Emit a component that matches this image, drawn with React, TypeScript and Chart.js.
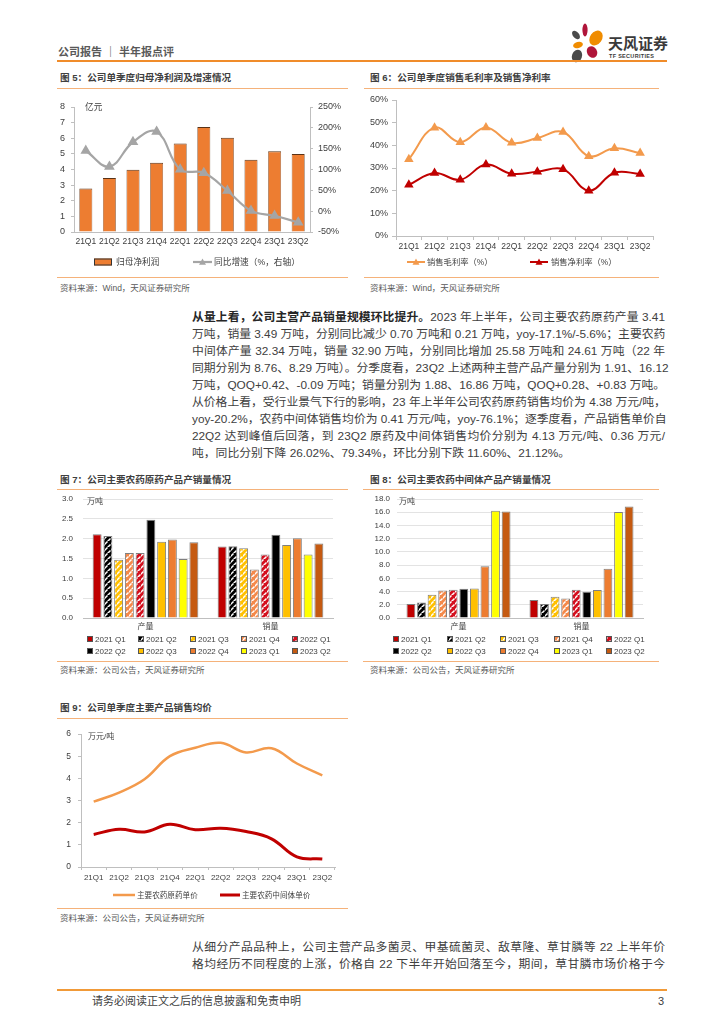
import React, { useEffect, useRef } from 'react';
import { Chart, registerables } from 'chart.js';
Chart.register(...registerables);

const LATIN = "'Liberation Sans', 'Noto Sans CJK SC', sans-serif";
const TEXT = '#404040';
const AXIS = '#BFBFBF';

// ---------- data ----------
const quarters = ['21Q1', '21Q2', '21Q3', '21Q4', '22Q1', '22Q2', '22Q3', '22Q4', '23Q1', '23Q2'];
// Fig 5
const netProfit = [2.78, 3.46, 3.99, 4.44, 5.66, 6.72, 6.04, 4.62, 5.17, 5.0];
const netProfitYoy = [145, 107, 166, 191, 100, 92, 49, 1, -11, -27];
// Fig 6
const grossMargin = [33.9, 47.8, 41.4, 47.9, 41.1, 43.2, 45.9, 35.2, 38.7, 36.6];
const netMargin = [22.6, 27.8, 24.8, 31.5, 27.5, 28.4, 29.5, 20.0, 27.9, 27.4];
// Fig 7 / 8
const volumeCats = ['产量', '销量'];
const seriesQuarters = ['2021 Q1', '2021 Q2', '2021 Q3', '2021 Q4', '2022 Q1', '2022 Q2', '2022 Q3', '2022 Q4', '2023 Q1', '2023 Q2'];
const apiProduction = [2.11, 2.07, 1.47, 1.64, 1.64, 2.48, 1.92, 1.98, 1.49, 1.91];
const apiSales = [1.80, 1.81, 1.76, 1.22, 1.60, 2.10, 1.84, 2.01, 1.60, 1.88];
const intProduction = [2.11, 2.36, 3.52, 4.17, 4.27, 4.42, 4.47, 7.84, 16.21, 16.12];
const intSales = [2.71, 2.11, 3.22, 2.96, 4.27, 3.97, 4.22, 7.44, 16.03, 16.86];
// Fig 9
const apiPrice = [2.95, 3.36, 3.96, 5.0, 5.38, 5.6, 5.17, 5.36, 4.67, 4.13];
const intPrice = [1.47, 1.70, 1.58, 1.93, 1.68, 1.75, 1.60, 1.27, 0.46, 0.36];

const para1 = [
  '万吨，销量 3.49 万吨，分别同比减少 0.70 万吨和 0.21 万吨，yoy-17.1%/-5.6%；主要农药',
  '中间体产量 32.34 万吨，销量 32.90 万吨，分别同比增加 25.58 万吨和 24.61 万吨（22 年',
  '同期分别为 8.76、8.29 万吨）。分季度看，23Q2 上述两种主营产品产量分别为 1.91、16.12',
  '万吨，QOQ+0.42、-0.09 万吨；销量分别为 1.88、16.86 万吨，QOQ+0.28、+0.83 万吨。',
  '从价格上看，受行业景气下行的影响，23 年上半年公司农药原药销售均价为 4.38 万元/吨，',
  'yoy-20.2%，农药中间体销售均价为 0.41 万元/吨，yoy-76.1%；逐季度看，产品销售单价自',
  '22Q2 达到峰值后回落，到 23Q2 原药及中间体销售均价分别为 4.13 万元/吨、0.36 万元/',
];
const para1Last = '吨，同比分别下降 26.02%、79.34%，环比分别下跌 11.60%、21.12%。';
const para2 = [
  '从细分产品品种上，公司主营产品多菌灵、甲基硫菌灵、敌草隆、草甘膦等 22 上半年价',
  '格均经历不同程度的上涨，价格自 22 下半年开始回落至今，期间，草甘膦市场价格于今',
];

// ---------- styles ----------
const quarterStyle: [string, boolean][] = [
  ['#C00000', false],
  ['#000000', true],
  ['#FFC000', true],
  ['#F4894A', true],
  ['#D40F1E', true],
  ['#000000', false],
  ['#FFC000', false],
  ['#ED7D31', false],
  ['#FFFF00', false],
  ['#C55A11', false],
];

function hatch(base: string): CanvasPattern | string {
  const c = document.createElement('canvas');
  c.width = 6; c.height = 6;
  const g = c.getContext('2d');
  if (!g) return base;
  g.fillStyle = base; g.fillRect(0, 0, 6, 6);
  g.strokeStyle = '#ffffff'; g.lineWidth = 1.5; g.lineCap = 'square';
  g.beginPath();
  g.moveTo(0, 3); g.lineTo(2, 1);
  g.moveTo(3, 6); g.lineTo(5, 4);
  g.stroke();
  return g.createPattern(c, 'repeat') || base;
}

// fixed axis sizes; vertical axes report no extra label padding so layout.padding sets the plot top exactly
const fixW = (w: number) => (s: any) => { s.width = w; s.paddingTop = 0; s.paddingBottom = 0; };
const fixH = (h: number) => (s: any) => { s.height = h; };

type LegendItem = { x: number; y: number; kind: 'box' | 'line' | 'lineTri'; w: number; h?: number; textX: number };

function legendPlugin(items: LegendItem[], fontSize: number) {
  return {
    id: 'manualLegend',
    afterDraw(chart: any) {
      const ctx = chart.ctx as CanvasRenderingContext2D;
      ctx.save();
      ctx.font = `${fontSize}px ${LATIN}`;
      ctx.textBaseline = 'middle';
      chart.data.datasets.forEach((ds: any, i: number) => {
        const it = items[i];
        if (!it) return;
        if (it.kind === 'box') {
          const h = it.h ?? it.w;
          ctx.fillStyle = ds.backgroundColor;
          ctx.fillRect(it.x, it.y - h / 2, it.w, h);
          ctx.strokeStyle = ds.legendBorder || ds.borderColor;
          ctx.lineWidth = 1;
          ctx.strokeRect(it.x + 0.5, it.y - h / 2 + 0.5, it.w - 1, h - 1);
        } else {
          ctx.strokeStyle = ds.borderColor;
          ctx.lineWidth = ds.borderWidth;
          ctx.beginPath(); ctx.moveTo(it.x, it.y); ctx.lineTo(it.x + it.w, it.y); ctx.stroke();
          if (it.kind === 'lineTri') {
            const cx = it.x + it.w / 2, r = 3.5;
            ctx.fillStyle = ds.borderColor;
            ctx.beginPath();
            ctx.moveTo(cx, it.y - r); ctx.lineTo(cx + r, it.y + r * 0.8); ctx.lineTo(cx - r, it.y + r * 0.8);
            ctx.closePath(); ctx.fill();
          }
        }
        ctx.fillStyle = TEXT;
        ctx.fillText(ds.label, it.textX, it.y + 0.5);
      });
      ctx.restore();
    },
  };
}

const tickFont = (size: number) => ({ size, family: LATIN });

function fig5(): any {
  return {
    type: 'bar',
    data: {
      labels: quarters,
      datasets: [
        {
          type: 'bar', label: '归母净利润', data: netProfit, backgroundColor: '#ED7D31',
          borderColor: '#5A3215', legendBorder: '#333333', borderWidth: { top: 1, left: 0.6, right: 0.6, bottom: 0 },
          yAxisID: 'y', order: 2, categoryPercentage: 1, barPercentage: 0.55,
        },
        {
          type: 'line', label: '同比增速（%，右轴）', data: netProfitYoy, borderColor: '#A5A5A5',
          backgroundColor: '#A5A5A5', pointBackgroundColor: '#A5A5A5', pointBorderColor: '#A5A5A5',
          pointStyle: 'triangle', pointRadius: 4, borderWidth: 2.2, tension: 0.4, yAxisID: 'y1', order: 1,
        },
      ],
    },
    options: {
      responsive: false, animation: false,
      layout: { padding: { top: 12, bottom: 23, left: 0, right: 0 } },
      plugins: { legend: { display: false }, tooltip: { enabled: false } },
      scales: {
        x: {
          grid: { display: false, drawTicks: false }, border: { color: AXIS },
          ticks: { font: tickFont(8.5), color: TEXT, padding: 5, maxRotation: 0, autoSkip: false },
          afterFit: fixH(20),
        },
        y: {
          position: 'left', min: 0, max: 8,
          ticks: { stepSize: 1, font: tickFont(9), color: TEXT, padding: 6, autoSkip: false },
          grid: { drawOnChartArea: false, tickLength: 3, color: AXIS }, border: { color: AXIS },
          afterFit: fixW(17),
        },
        y1: {
          position: 'right', min: -50, max: 250,
          ticks: { stepSize: 50, font: tickFont(9), color: TEXT, padding: 5, autoSkip: false, callback: (v: any) => v + '%' },
          grid: { drawOnChartArea: false, tickLength: 3, color: AXIS }, border: { color: AXIS },
          afterFit: fixW(38),
        },
      },
    },
    plugins: [legendPlugin([
      { x: 37, y: 167, kind: 'box', w: 18, h: 7, textX: 59 },
      { x: 136, y: 167, kind: 'lineTri', w: 19, textX: 157 },
    ], 8.7)],
  };
}

function fig6(): any {
  return {
    type: 'line',
    data: {
      labels: quarters,
      datasets: [
        {
          label: '销售毛利率（%）', data: grossMargin, borderColor: '#F39A4C', backgroundColor: '#F39A4C',
          pointBackgroundColor: '#F39A4C', pointBorderColor: '#F39A4C', pointStyle: 'triangle', pointRadius: 3.5,
          borderWidth: 2, tension: 0.4,
        },
        {
          label: '销售净利率（%）', data: netMargin, borderColor: '#C00000', backgroundColor: '#C00000',
          pointBackgroundColor: '#C00000', pointBorderColor: '#C00000', pointStyle: 'triangle', pointRadius: 3.5,
          borderWidth: 2, tension: 0.4,
        },
      ],
    },
    options: {
      responsive: false, animation: false,
      layout: { padding: { top: 8, bottom: 19, left: 0, right: 7 } },
      plugins: { legend: { display: false }, tooltip: { enabled: false } },
      scales: {
        x: {
          offset: true,
          grid: { drawOnChartArea: false, tickLength: 4, color: AXIS, offset: true }, border: { color: AXIS },
          ticks: { font: tickFont(8.5), color: TEXT, padding: 2, maxRotation: 0, autoSkip: false },
          afterFit: fixH(20),
        },
        y: {
          min: 0, max: 60,
          ticks: { stepSize: 10, font: tickFont(9), color: TEXT, padding: 4, autoSkip: false, callback: (v: any) => v + '%' },
          grid: { drawOnChartArea: false, tickLength: 4, color: AXIS }, border: { color: AXIS },
          afterFit: fixW(31),
        },
      },
    },
    plugins: [legendPlugin([
      { x: 42, y: 170, kind: 'lineTri', w: 18, textX: 62 },
      { x: 165, y: 170, kind: 'lineTri', w: 18, textX: 186 },
    ], 8.3)],
  };
}

function volumeChart(prod: number[], sales: number[], max: number, step: number, yW: number, padR: number, tickPad: number, cols: number[]): any {
  const datasets = seriesQuarters.map((q, i) => {
    const [base, pat] = quarterStyle[i];
    return {
      label: q, data: [prod[i], sales[i]],
      backgroundColor: pat ? hatch(base) : base,
      borderColor: '#7F7F7F', legendBorder: '#555555', borderWidth: 1,
      categoryPercentage: 0.86, barPercentage: 0.83,
    };
  });
  const items: LegendItem[] = seriesQuarters.map((_, i) => {
    const x = cols[i % 5];
    const y = i < 5 ? 146 : 158;
    return { x, y, kind: 'box', w: 6, h: 6, textX: x + 8 };
  });
  return {
    type: 'bar',
    data: { labels: volumeCats, datasets },
    options: {
      responsive: false, animation: false,
      layout: { padding: { top: 6, bottom: 22, left: 0, right: padR } },
      plugins: { legend: { display: false }, tooltip: { enabled: false } },
      scales: {
        x: {
          grid: { display: false, drawTicks: false }, border: { color: AXIS },
          ticks: { font: tickFont(8), color: TEXT, padding: 4 },
          afterFit: fixH(18),
        },
        y: {
          min: 0, max,
          ticks: { stepSize: step, font: tickFont(8), color: TEXT, padding: tickPad, autoSkip: false, callback: (v: any) => Number(v).toFixed(1) },
          grid: { color: '#E3E3E3', drawTicks: false }, border: { display: false },
          afterFit: fixW(yW),
        },
      },
    },
    plugins: [legendPlugin(items, 8)],
  };
}

function fig9(): any {
  return {
    type: 'line',
    data: {
      labels: quarters,
      datasets: [
        { label: '主要农药原药单价', data: apiPrice, borderColor: '#F39A4C', borderWidth: 2.5, pointRadius: 0, tension: 0.4 },
        { label: '主要农药中间体单价', data: intPrice, borderColor: '#C00000', borderWidth: 3, pointRadius: 0, tension: 0.4 },
      ],
    },
    options: {
      responsive: false, animation: false,
      layout: { padding: { top: 9, bottom: 16, left: 0, right: 13 } },
      plugins: { legend: { display: false }, tooltip: { enabled: false } },
      scales: {
        x: {
          offset: true,
          grid: { drawOnChartArea: false, tickLength: 3, color: AXIS, offset: true }, border: { color: AXIS },
          ticks: { font: tickFont(8), color: TEXT, padding: 3, maxRotation: 0, autoSkip: false },
          afterFit: fixH(20),
        },
        y: {
          min: 0, max: 6,
          ticks: { stepSize: 1, font: tickFont(8.5), color: TEXT, padding: 7, autoSkip: false },
          grid: { drawOnChartArea: false, tickLength: 3, color: AXIS }, border: { color: AXIS },
          afterFit: fixW(24),
        },
      },
    },
    plugins: [legendPlugin([
      { x: 56, y: 170, kind: 'line', w: 22, textX: 80 },
      { x: 163, y: 170, kind: 'line', w: 20, textX: 185 },
    ], 7.6)],
  };
}

// ---------- components ----------
function ChartBox({ x, y, w, h, make }: { x: number; y: number; w: number; h: number; make: () => any }) {
  const ref = useRef<HTMLCanvasElement>(null);
  useEffect(() => {
    if (!ref.current) return;
    const c = new Chart(ref.current, make());
    return () => c.destroy();
  }, []);
  return (
    <div style={{ position: 'absolute', left: x, top: y, width: w, height: h }}>
      <canvas ref={ref} width={w} height={h} style={{ width: w, height: h, display: 'block' }} />
    </div>
  );
}

function Txt({ x, y, size, children, color = TEXT, bold = false, w, justify = false }: any) {
  return (
    <div style={{
      position: 'absolute', left: x, top: y - 10, height: 20, lineHeight: '20px', fontSize: size, color,
      fontWeight: bold ? 700 : 400, whiteSpace: 'nowrap', width: w, fontFamily: LATIN,
      textAlign: justify ? 'justify' : 'left', textAlignLast: justify ? 'justify' : 'auto',
    } as any}>{children}</div>
  );
}

function HLine({ x, y, w, h = 1, color = '#F5B27A' }: any) {
  return <div style={{ position: 'absolute', left: x, top: y, width: w, height: h, background: color }} />;
}

function Logo() {
  return (
    <>
      <svg style={{ position: 'absolute', left: 566, top: 20 }} width={40} height={46} viewBox="566 20 40 46">
        <ellipse cx={585} cy={30} rx={2.6} ry={6.5} fill="#B0153A" />
        <ellipse cx={576} cy={35} rx={3} ry={5} fill="#4A4A4A" transform="rotate(-40 576 35)" />
        <ellipse cx={596} cy={38} rx={6} ry={8} fill="#F08C00" transform="rotate(35 596 38)" />
        <ellipse cx={578} cy={45} rx={5} ry={3} fill="#F08C00" transform="rotate(-15 578 45)" />
        <ellipse cx={592} cy={52} rx={5} ry={6} fill="#B0153A" transform="rotate(-30 592 52)" />
        <ellipse cx={577} cy={56} rx={5} ry={6.5} fill="#4A4A4A" transform="rotate(20 577 56)" />
      </svg>
      <div style={{ position: 'absolute', left: 608, top: 34, fontSize: 15, lineHeight: '18px', fontWeight: 700, color: '#3A3A3A', fontFamily: "'Noto Sans CJK SC', sans-serif", whiteSpace: 'nowrap' }}>天风证券</div>
      <div style={{ position: 'absolute', left: 609, top: 52, fontSize: 5.5, lineHeight: '8px', fontWeight: 700, color: '#3A3A3A', fontFamily: LATIN, whiteSpace: 'nowrap', letterSpacing: 0.3 }}>TF SECURITIES</div>
    </>
  );
}

export default function App() {
  const PX = 192, PW = 473;
  return (
    <div style={{ position: 'relative', width: 724, height: 1024, overflow: 'hidden', background: '#fff', fontFamily: LATIN }}>
      <style>{'body{margin:0;background:#fff}'}</style>
      {/* header */}
      <Txt x={58} y={52} size={11} color="#595959" bold>公司报告 ｜ 半年报点评</Txt>
      <Logo />
      <HLine x={57} y={60} w={610} h={2} color="#F08C2A" />

      {/* Fig 5 */}
      <Txt x={60} y={78} size={9.6} bold>图 5：公司单季度归母净利润及增速情况</Txt>
      <HLine x={57} y={88} w={291} />
      <ChartBox x={57} y={95} w={291} h={180} make={fig5} />
      <Txt x={85} y={107} size={8.7}>亿元</Txt>
      <HLine x={57} y={277} w={291} />
      <Txt x={60} y={288} size={8.5} color="#595959">资料来源：Wind，天风证券研究所</Txt>

      {/* Fig 6 */}
      <Txt x={370} y={78} size={9.6} bold>图 6：公司单季度销售毛利率及销售净利率</Txt>
      <HLine x={364} y={88} w={295} />
      <ChartBox x={365} y={92} w={295} h={183} make={fig6} />
      <HLine x={364} y={277} w={295} />
      <Txt x={370} y={288} size={8.5} color="#595959">资料来源：Wind，天风证券研究所</Txt>

      {/* paragraph 1 */}
      <Txt x={PX} y={317} size={11.8} w={PW} justify><b style={{ color: '#262626' }}>从量上看，公司主营产品销量规模环比提升。</b>2023 年上半年，公司主要农药原药产量 3.41</Txt>
      {para1.map((l, i) => (
        <Txt key={i} x={PX} y={334 + i * 17} size={11.8} w={PW} justify>{l}</Txt>
      ))}
      <Txt x={PX} y={453} size={11.8}>{para1Last}</Txt>

      {/* Fig 7 */}
      <Txt x={60} y={480} size={9.6} bold>图 7：公司主要农药原药产品产销量情况</Txt>
      <HLine x={57} y={489} w={291} />
      <ChartBox x={57} y={493} w={291} h={165} make={() => volumeChart(apiProduction, apiSales, 3, 0.5, 26, 15, 10, [30, 81, 133, 184, 235])} />
      <Txt x={87} y={502} size={8}>万吨</Txt>
      <HLine x={57} y={661} w={291} />
      <Txt x={60} y={670} size={8.5} color="#595959">资料来源：公司公告，天风证券研究所</Txt>

      {/* Fig 8 */}
      <Txt x={370} y={480} size={9.6} bold>图 8：公司主要农药中间体产品产销量情况</Txt>
      <HLine x={363} y={489} w={296} />
      <ChartBox x={365} y={493} w={295} h={165} make={() => volumeChart(intProduction, intSales, 18, 2, 32, 17, 7, [28, 82, 135, 189, 241])} />
      <Txt x={399} y={502} size={8}>万吨</Txt>
      <HLine x={363} y={661} w={296} />
      <Txt x={370} y={670} size={8.5} color="#595959">资料来源：公司公告，天风证券研究所</Txt>

      {/* Fig 9 */}
      <Txt x={60} y={708} size={9.6} bold>图 9：公司单季度主要产品销售均价</Txt>
      <HLine x={57} y={718} w={291} />
      <ChartBox x={57} y={725} w={291} h={178} make={fig9} />
      <Txt x={88} y={737} size={8}>万元/吨</Txt>
      <HLine x={57} y={908} w={291} />
      <Txt x={60} y={918} size={8.5} color="#595959">资料来源：公司公告，天风证券研究所</Txt>

      {/* paragraph 2 */}
      {para2.map((l, i) => (
        <Txt key={i} x={PX} y={947 + i * 17} size={11.8} w={PW} justify>{l}</Txt>
      ))}

      {/* footer */}
      <HLine x={57} y={989} w={610} h={2} color="#F19A38" />
      <Txt x={92} y={1001} size={11}>请务必阅读正文之后的信息披露和免责申明</Txt>
      <Txt x={658} y={1001} size={11}>3</Txt>
    </div>
  );
}
